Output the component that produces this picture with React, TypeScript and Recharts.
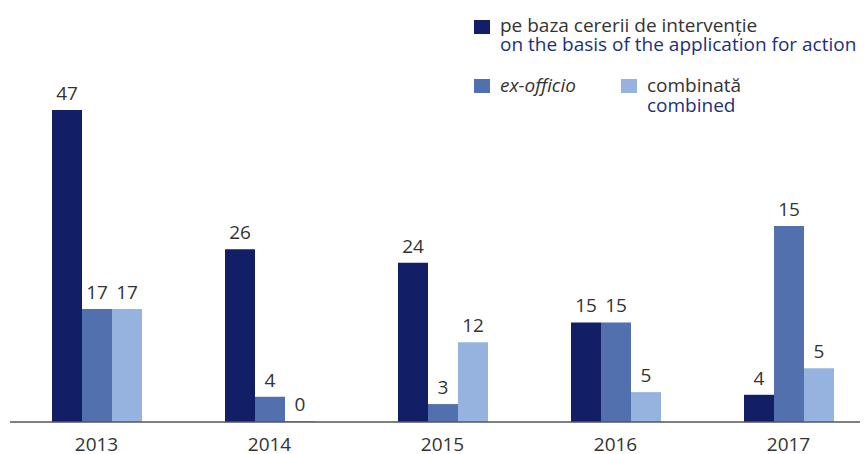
import React from 'react';
import { BarChart, Bar, XAxis, YAxis, Legend, LabelList } from 'recharts';

const years = ['2013', '2014', '2015', '2016', '2017'];
// bar heights as drawn in the picture
const applicationHeights = [47, 26, 24, 15, 4.1];
const exOfficioHeights = [17, 3.8, 2.7, 15, 29.5];
const combinedHeights = [17, 0, 12, 4.5, 8.1];
// printed value labels
const applicationLabels = ['47', '26', '24', '15', '4'];
const exOfficioLabels = ['17', '4', '3', '15', '15'];
const combinedLabels = ['17', '0', '12', '5', '5'];

const seriesKeys = ['application', 'exOfficio', 'combined'];
const seriesRo = ['pe baza cererii de intervenție', 'ex-officio', 'combinată'];
const seriesEn = ['on the basis of the application for action', '', 'combined'];
const seriesColors = ['#121f67', '#5170ad', '#95b3de'];

const data = years.map((y, i) => ({
  year: y,
  application: applicationHeights[i],
  exOfficio: exOfficioHeights[i],
  combined: combinedHeights[i],
  applicationLabel: applicationLabels[i],
  exOfficioLabel: exOfficioLabels[i],
  combinedLabel: combinedLabels[i],
}));

const FONT = '"Open Sans", sans-serif';
const TEXT = '#333333';
const NAVY = '#1d2f7c';

const ValueLabel = (props: any) => {
  const { x, y, width, value } = props;
  return (
    <text
      x={Number(x) + Number(width) / 2}
      y={Number(y) - 10}
      textAnchor="middle"
      fontFamily={FONT}
      fontSize={19}
      fill={TEXT}
    >
      {value}
    </text>
  );
};

const YearTick = (props: any) => {
  const { x, y, payload } = props;
  return (
    <text x={x} y={y + 28.5} textAnchor="middle" fontFamily={FONT} fontSize={19} fill={TEXT}>
      {payload.value}
    </text>
  );
};

const legendPos = [
  { sq: [466, 12], tx: [492, 7.9] },
  { sq: [466, 71], tx: [492, 68.4] },
  { sq: [613, 71], tx: [639, 68.4] },
];

const LegendContent = () => (
  <div style={{ position: 'relative', width: 860, height: 130 }}>
    {seriesRo.map((name, i) => (
      <React.Fragment key={name}>
        <div
          style={{
            position: 'absolute',
            left: legendPos[i].sq[0],
            top: legendPos[i].sq[1],
            width: 16,
            height: 14,
            background: seriesColors[i],
          }}
        />
        <div
          style={{
            position: 'absolute',
            left: legendPos[i].tx[0],
            top: legendPos[i].tx[1],
            fontFamily: FONT,
            fontSize: 19,
            lineHeight: '19.5px',
            whiteSpace: 'nowrap',
          }}
        >
          <div style={{ color: TEXT, fontStyle: i === 1 ? 'italic' : 'normal' }}>{name}</div>
          {seriesEn[i] ? <div style={{ color: NAVY }}>{seriesEn[i]}</div> : null}
        </div>
      </React.Fragment>
    ))}
  </div>
);

export default function App() {
  return (
    <div style={{ width: 860, height: 446, overflow: 'hidden', position: 'relative' }}>
      <BarChart
        width={870}
        height={446}
        data={data}
        margin={{ top: 82, right: 3, left: 2, bottom: 0 }}
        barCategoryGap={42}
        barGap={0}
      >
        <YAxis hide domain={[0, 50]} allowDataOverflow />
        <Legend
          layout="vertical"
          align="center"
          verticalAlign="middle"
          content={<LegendContent />}
          wrapperStyle={{ position: 'absolute', top: 0, left: 0, width: 860, height: 130 }}
        />
        {seriesKeys.map((k, i) => (
          <Bar
            key={k}
            dataKey={k}
            fill={seriesColors[i]}
            isAnimationActive={false}
            minPointSize={i === 2 ? 1 : 0}
          >
            <LabelList dataKey={`${k}Label`} content={<ValueLabel />} />
          </Bar>
        ))}
        <XAxis
          dataKey="year"
          tickLine={false}
          tickSize={0}
          tickMargin={0}
          height={32}
          axisLine={{ stroke: '#555555', strokeWidth: 1.5 }}
          tick={<YearTick />}
          interval={0}
        />
      </BarChart>
    </div>
  );
}
